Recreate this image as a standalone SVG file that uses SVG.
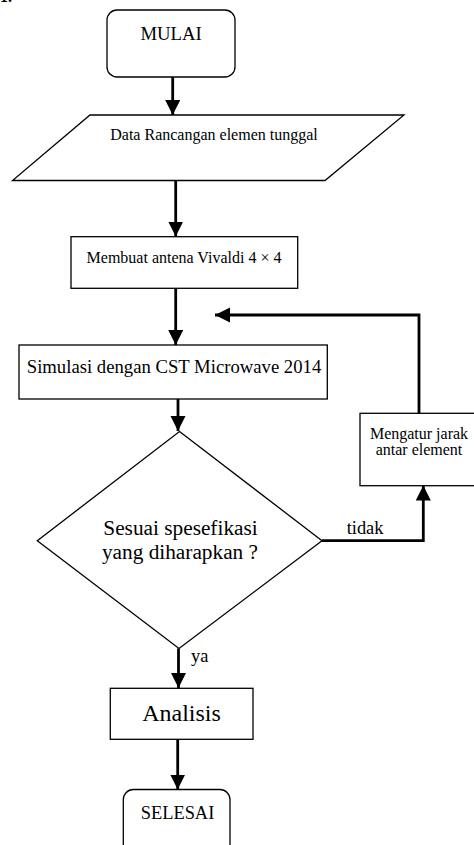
<svg xmlns="http://www.w3.org/2000/svg" width="474" height="845" viewBox="0 0 474 845">
  <style>
    .node { fill: #fff; stroke: #000; stroke-width: 1.3; }
    .lbl { font-family: "Liberation Serif", "Times New Roman", serif; fill: #000; text-anchor: middle; }
    .edge { fill: none; stroke: #000; stroke-width: 2.8; marker-end: url(#arrow); }
    .elbl { font-family: "Liberation Serif", "Times New Roman", serif; fill: #000; }
  </style>
  <defs>
    <marker id="arrow" markerUnits="userSpaceOnUse" markerWidth="16" markerHeight="16" refX="15" refY="7.5" orient="auto">
      <path d="M0,0 L15,7.5 L0,15 z" fill="#000"/>
    </marker>
  </defs>

  <rect width="474" height="845" fill="#fff"/>
  <text x="0" y="2" font-family="Liberation Serif, serif" font-weight="bold" font-size="16">1.</text>

  <g id="mulai">
    <rect class="node" x="107" y="10" width="128" height="67" rx="10"/>
    <text class="lbl" x="171" y="40" font-size="18.7">MULAI</text>
  </g>

  <g id="data">
    <polygon class="node" points="90,115 404,115 325,180.5 12.5,180.5"/>
    <text class="lbl" x="214" y="140" font-size="16">Data Rancangan elemen tunggal</text>
  </g>

  <g id="membuat">
    <rect class="node" x="71" y="236.7" width="226.7" height="51.6"/>
    <text class="lbl" x="184" y="262.7" font-size="16">Membuat antena Vivaldi 4 × 4</text>
  </g>

  <g id="simulasi">
    <rect class="node" x="19" y="345" width="308.3" height="54"/>
    <text class="lbl" x="174" y="373.3" font-size="18.7">Simulasi dengan CST Microwave 2014</text>
  </g>

  <g id="cek">
    <polygon class="node" points="179.5,431.5 322,540.7 179,648.5 37.3,540.7"/>
    <text class="lbl" x="180.5" y="535" font-size="21.3">Sesuai spesefikasi</text>
    <text class="lbl" x="180" y="559.3" font-size="21.3">yang diharapkan ?</text>
  </g>

  <g id="mengatur">
    <rect class="node" x="360" y="413.3" width="130" height="72.4"/>
    <text class="lbl" x="419" y="439.3" font-size="16">Mengatur jarak</text>
    <text class="lbl" x="419" y="455" font-size="16">antar element</text>
  </g>

  <g id="analisis">
    <rect class="node" x="110.3" y="688.3" width="142.7" height="51"/>
    <text class="lbl" x="181.5" y="720.7" font-size="24">Analisis</text>
  </g>

  <g id="selesai">
    <rect class="node" x="123.3" y="789.5" width="106.7" height="70" rx="10"/>
    <text class="lbl" x="177.5" y="819" font-size="18.4">SELESAI</text>
  </g>

  <g id="connectors">
    <path class="edge" d="M172.7,77 V115"/>
    <path class="edge" d="M175.7,180.5 V236.5"/>
    <path class="edge" d="M175.7,288.3 V345"/>
    <path class="edge" d="M178,399 V431"/>
    <path class="edge" d="M178.5,648.5 V688"/>
    <path class="edge" d="M177.7,739.3 V789.5"/>
    <path class="edge" d="M322,540.7 H423.3 V485.5"/>
    <path class="edge" d="M419,413.3 V315 H215"/>
    <text class="elbl" x="346.7" y="534.3" font-size="18.4">tidak</text>
    <text class="elbl" x="191" y="661.7" font-size="18.4">ya</text>
  </g>
</svg>
